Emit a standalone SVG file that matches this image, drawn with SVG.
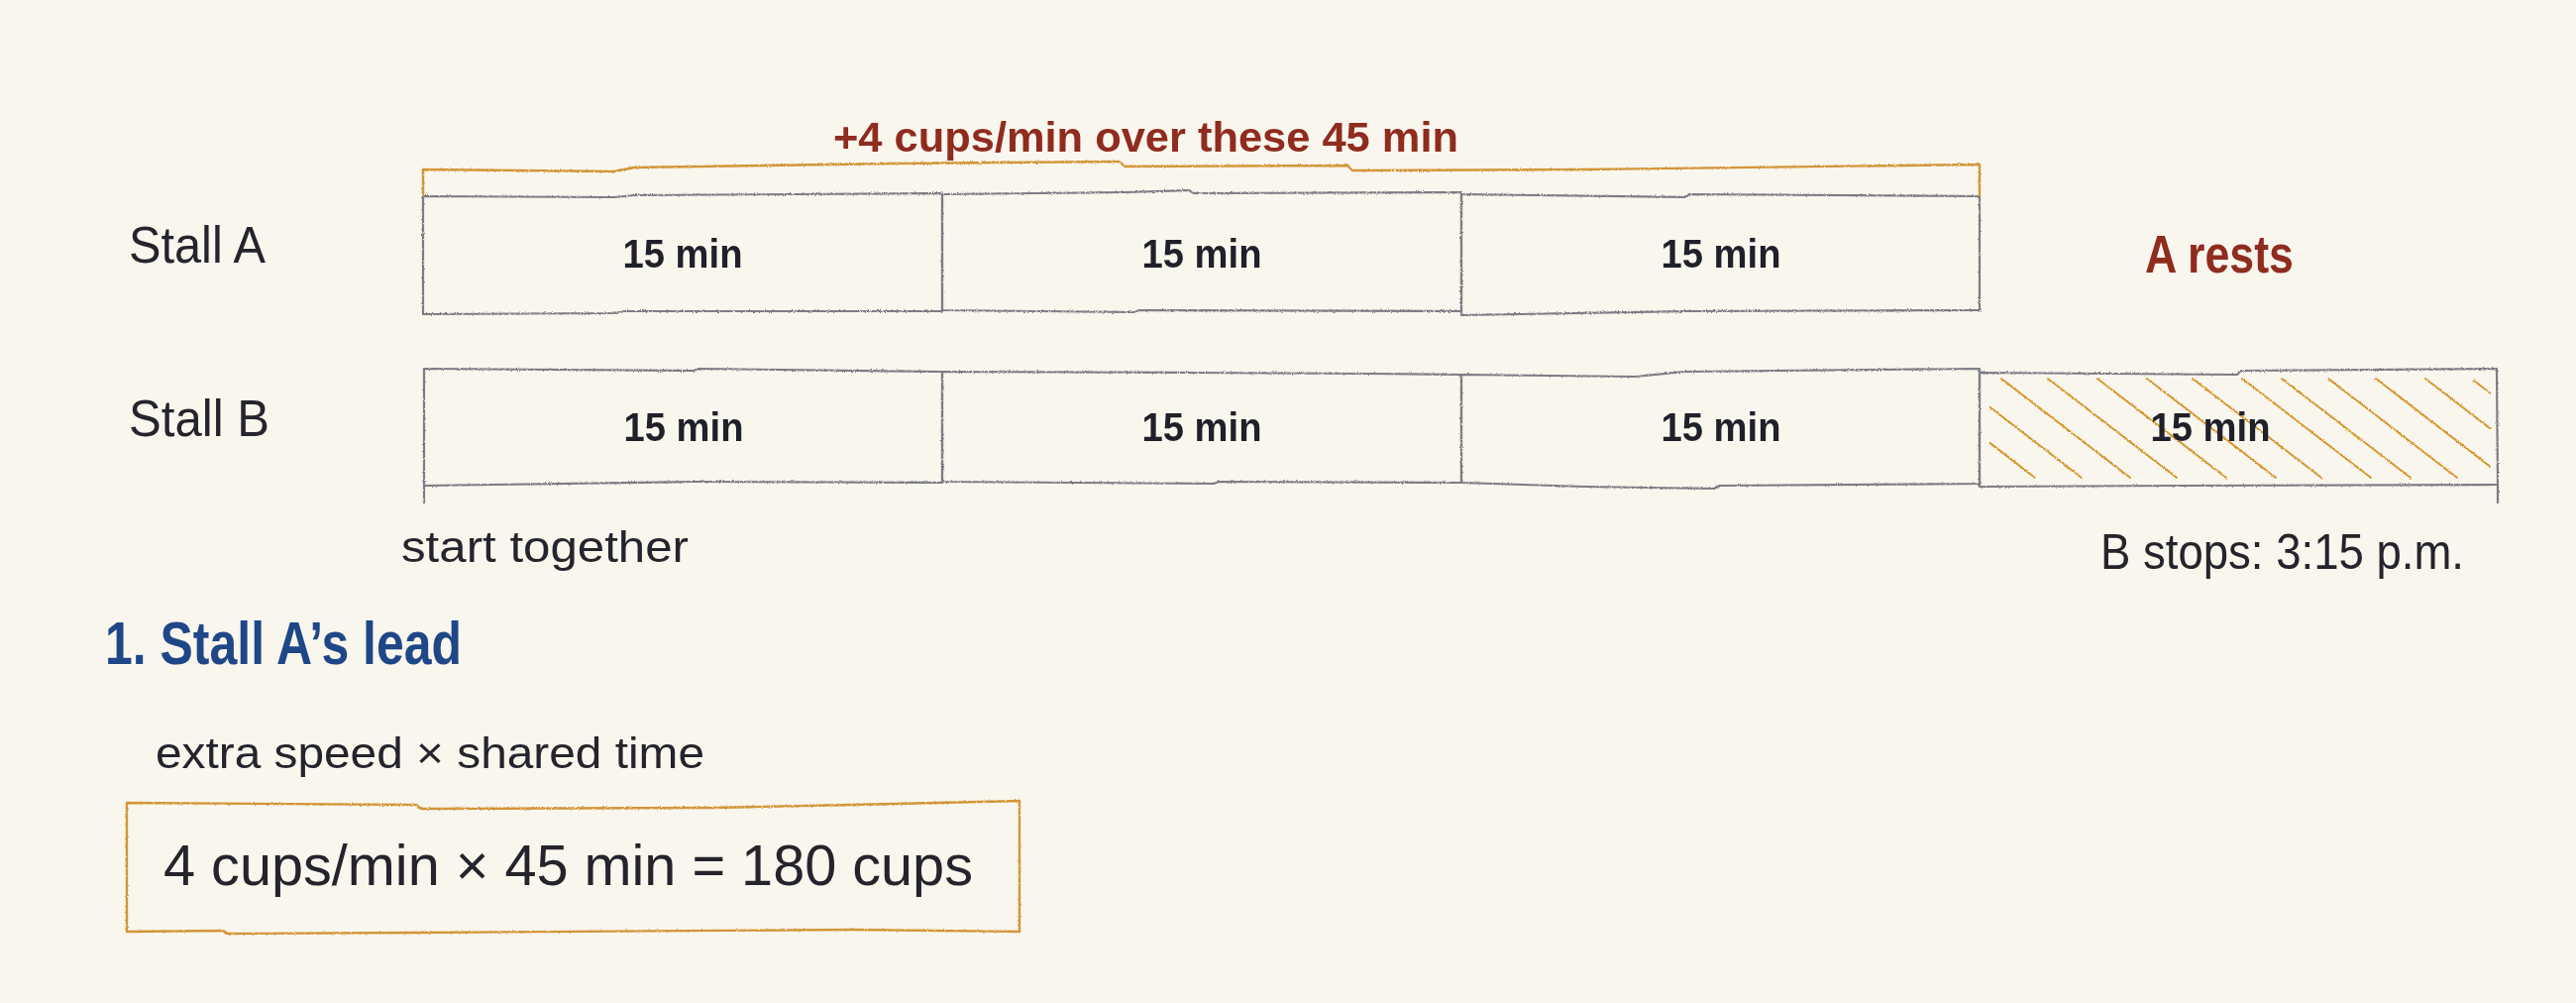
<svg xmlns="http://www.w3.org/2000/svg" width="2600" height="1012" viewBox="0 0 2600 1012">
  <defs>
    <filter id="pencil" filterUnits="userSpaceOnUse" x="0" y="0" width="2600" height="1012">
      <feTurbulence type="fractalNoise" baseFrequency="0.9" numOctaves="2" seed="3" result="n"/>
      <feDisplacementMap in="SourceGraphic" in2="n" scale="2.6" xChannelSelector="R" yChannelSelector="G"/>
    </filter>
    <clipPath id="hatchClip">
      <rect x="2008" y="380" width="506" height="104"/>
    </clipPath>
    <style>
      .cell { fill: none; stroke: #7c7b84; stroke-width: 2.2; stroke-linejoin: round; }
      .orange { fill: none; stroke: #d39538; stroke-width: 2.4; stroke-linejoin: round; }
      .hatch { stroke: #d6962f; stroke-width: 2; stroke-linecap: round; }
      .hand { font-family: "Liberation Sans", Arial, sans-serif; fill: #25242c; }
      .dur { font-family: "Liberation Sans", Arial, sans-serif; font-weight: bold; font-size: 40px; fill: #1f2029; text-anchor: middle; }
      .red { fill: #8f2c1f; font-weight: bold; }
      .blue { fill: #1f4787; font-weight: bold; }
    </style>
  </defs>
  <rect x="0" y="0" width="2600" height="1012" fill="#f9f6ee"/>

  <!-- Row labels -->
  <g id="label-stall-a"><text class="hand" x="130" y="265" font-size="52" textLength="138" lengthAdjust="spacingAndGlyphs">Stall A</text></g>
  <g id="label-stall-b"><text class="hand" x="130" y="440" font-size="52" textLength="142" lengthAdjust="spacingAndGlyphs">Stall B</text></g>

  <!-- Stall A cells -->
  <g filter="url(#pencil)">
    <g id="cell-a1"><path class="cell" d="M427,198 L620,199 L640,197 L800,196 L951,195 L951,314 L630,314 L620,316 L427,317 Z"/></g>
    <g id="cell-a2"><path class="cell" d="M951,196 L1135,194 L1200,192 L1205,195 L1475,194 L1475,314 L1150,313 L1145,315 L951,313 Z"/></g>
    <g id="cell-a3"><path class="cell" d="M1475,196 L1700,199 L1705,196 L1998,198 L1998,313 L1700,314 L1475,318 Z"/></g>
    <g id="cell-b1"><path class="cell" d="M428,372 L700,374 L705,372 L951,375 L951,487 L700,486 L428,490 Z"/></g>
    <g id="cell-b2"><path class="cell" d="M951,375 L1200,376 L1380,377 L1475,378 L1475,487 L1230,486 L1225,488 L951,486 Z"/></g>
    <g id="cell-b3"><path class="cell" d="M1475,378 L1650,380 L1700,375 L1998,372 L1998,488 L1735,490 L1730,493 L1600,491 L1475,487 Z"/></g>
    <g id="cell-b4">
      <g clip-path="url(#hatchClip)">
        <line class="hatch" x1="1924" y1="382" x2="2054" y2="482"/>
        <line class="hatch" x1="1971" y1="382" x2="2101" y2="482"/>
        <line class="hatch" x1="2020" y1="382" x2="2150" y2="482"/>
        <line class="hatch" x1="2067" y1="382" x2="2197" y2="482"/>
        <line class="hatch" x1="2117" y1="382" x2="2247" y2="482"/>
        <line class="hatch" x1="2167" y1="382" x2="2297" y2="482"/>
        <line class="hatch" x1="2213" y1="382" x2="2343" y2="482"/>
        <line class="hatch" x1="2263" y1="382" x2="2393" y2="482"/>
        <line class="hatch" x1="2303" y1="382" x2="2433" y2="482"/>
        <line class="hatch" x1="2350" y1="382" x2="2480" y2="482"/>
        <line class="hatch" x1="2398" y1="382" x2="2528" y2="482"/>
        <line class="hatch" x1="2448" y1="382" x2="2578" y2="482"/>
        <line class="hatch" x1="2497" y1="384" x2="2627" y2="484"/>
      </g>
      <path class="cell" d="M1998,376 L2258,378 L2262,374 L2520,372 L2521,489 L2200,490 L1998,491 Z"/>
    </g>
  </g>

  <!-- Durations -->
  <g id="durations">
    <text class="dur" x="689" y="270" textLength="121" lengthAdjust="spacingAndGlyphs">15 min</text>
    <text class="dur" x="1213" y="270" textLength="121" lengthAdjust="spacingAndGlyphs">15 min</text>
    <text class="dur" x="1737" y="270" textLength="121" lengthAdjust="spacingAndGlyphs">15 min</text>
    <text class="dur" x="690" y="445" textLength="121" lengthAdjust="spacingAndGlyphs">15 min</text>
    <text class="dur" x="1213" y="445" textLength="121" lengthAdjust="spacingAndGlyphs">15 min</text>
    <text class="dur" x="1737" y="445" textLength="121" lengthAdjust="spacingAndGlyphs">15 min</text>
    <text class="dur" x="2231" y="445" textLength="121" lengthAdjust="spacingAndGlyphs" text-anchor="middle">15 min</text>
  </g>

  <!-- Connectors / annotation marks -->
  <g id="connectors" filter="url(#pencil)">
    <path class="orange" d="M427,198 L427,171 L620,173 L640,169 L900,165 L1130,163 L1135,168 L1360,167 L1365,172 L1600,171 L1998,166 L1998,198"/>
    <path class="cell" d="M428,490 L428,508"/>
    <path class="cell" d="M2521,489 L2521,508"/>
  </g>

  <g id="title"><text class="hand red" x="841" y="153" font-size="42" textLength="631" lengthAdjust="spacingAndGlyphs">+4 cups/min over these 45 min</text></g>
  <g id="a-rests"><text class="hand red" x="2165" y="275" font-size="54" textLength="150" lengthAdjust="spacingAndGlyphs">A rests</text></g>
  <g id="start-together"><text class="hand" x="405" y="567" font-size="44" textLength="290" lengthAdjust="spacingAndGlyphs">start together</text></g>
  <g id="b-stops"><text class="hand" x="2120" y="574" font-size="50" textLength="367" lengthAdjust="spacingAndGlyphs">B stops: 3:15 p.m.</text></g>

  <g id="heading"><text class="hand blue" x="106" y="670" font-size="62" textLength="360" lengthAdjust="spacingAndGlyphs">1. Stall A’s lead</text></g>
  <g id="caption"><text class="hand" x="157" y="775" font-size="44" textLength="554" lengthAdjust="spacingAndGlyphs">extra speed × shared time</text></g>

  <g id="formula-box">
    <path class="orange" filter="url(#pencil)" d="M128,810 L420,812 L425,816 L720,815 L860,812 L1029,808 L1029,940 L860,938 L420,941 L230,942 L225,939 L128,940 Z"/>
    <text class="hand" x="165" y="893" font-size="58" textLength="817" lengthAdjust="spacingAndGlyphs">4 cups/min × 45 min = 180 cups</text>
  </g>
</svg>
